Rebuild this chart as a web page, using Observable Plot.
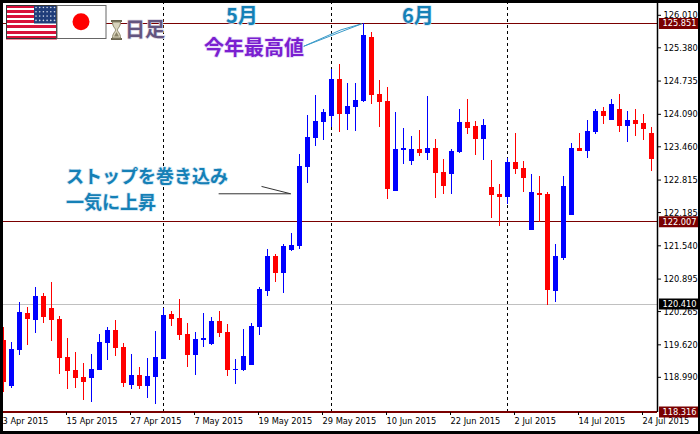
<!DOCTYPE html>
<html><head><meta charset="utf-8">
<style>
html,body{margin:0;padding:0;background:#fff}
#wrap{position:relative;width:700px;height:434px;overflow:hidden}
#wrap>svg{display:block}
#border{position:absolute;left:0;top:0;width:700px;height:434px;box-sizing:border-box;border:solid #000;border-width:3px 2px 3px 3px;pointer-events:none}
#flags{position:absolute;left:6px;top:5px}
#glass{position:absolute;left:110px;top:20px}
</style>
<script src="https://cdn.jsdelivr.net/npm/d3@7"></script>
<script src="https://cdn.jsdelivr.net/npm/@observablehq/plot@0.6"></script>
</head><body><div id="wrap">
</div>
<script>
const highs = [119.956,119.666,120.441,120.344,120.732,120.616,120.829,120.170,119.743,119.472,119.258,119.433,119.821,119.956,120.092,119.646,119.433,119.181,119.355,119.879,120.325,120.267,120.499,120.034,119.860,120.228,120.150,120.267,120.015,119.336,119.918,120.034,120.732,121.469,121.372,121.566,121.779,123.311,124.067,124.455,124.183,124.959,125.056,124.688,124.688,125.851,125.677,124.746,124.610,124.125,123.815,123.660,123.776,124.436,123.602,123.214,123.408,124.183,124.377,123.951,123.990,123.195,122.729,123.233,123.718,123.175,122.923,122.884,122.574,121.566,122.884,123.524,123.718,123.970,124.183,124.222,124.377,124.474,124.145,124.183,124.087,123.834];
const bodyTops = [119.704,119.530,120.247,120.228,120.558,120.558,120.325,120.112,119.375,119.123,118.987,119.142,119.666,119.898,119.898,119.569,119.026,119.026,119.006,119.375,120.189,120.209,120.131,119.821,119.724,119.743,120.073,120.073,119.860,119.142,119.394,119.976,120.693,121.333,121.333,121.527,121.546,123.078,123.641,123.951,124.125,124.765,124.765,124.242,124.358,125.618,125.580,124.474,124.339,123.408,123.427,123.408,123.408,123.427,123.427,122.962,123.369,123.931,123.931,123.854,123.873,122.671,122.535,123.156,123.156,123.039,122.574,122.555,122.535,121.333,122.690,123.427,123.427,123.757,124.145,124.145,124.280,124.183,123.970,123.970,123.912,123.718];
const bodyBottoms = [118.890,118.812,119.510,120.112,120.092,120.150,120.092,119.355,119.103,118.968,118.890,118.968,119.123,119.646,119.549,118.871,118.832,118.812,118.812,118.987,119.336,120.112,119.801,119.414,119.414,119.704,119.627,119.840,119.123,119.123,119.123,119.220,119.956,120.655,121.004,121.004,121.449,121.527,123.059,123.621,123.931,124.048,124.087,124.087,124.222,124.339,124.455,124.319,122.632,122.594,123.388,123.175,123.330,123.330,122.943,122.690,122.923,123.350,123.815,123.602,123.602,122.516,122.477,122.477,123.020,122.846,121.837,122.516,120.674,120.655,121.294,122.128,123.369,123.369,123.738,124.048,123.970,123.854,123.854,123.893,123.796,123.214];
const lows = [118.696,118.774,119.414,119.607,119.840,120.034,119.685,119.045,118.754,118.774,118.541,118.502,119.123,119.317,119.394,118.793,118.754,118.754,118.580,118.463,119.336,119.976,119.704,119.181,119.026,119.569,119.607,119.763,119.006,118.851,119.103,119.220,119.801,120.558,120.829,120.616,121.430,121.469,122.749,123.466,123.582,123.834,123.738,123.776,123.757,124.319,124.280,123.834,122.438,122.594,123.117,123.098,123.272,123.195,122.458,122.535,122.535,123.330,123.699,123.292,123.195,122.070,121.915,122.341,122.923,122.574,121.837,121.992,120.383,120.441,121.256,122.128,123.369,123.233,123.699,123.893,123.970,123.738,123.544,123.660,123.582,122.981];
// r = red bar (fell), b = blue bar (rose)
const barColours = "rbbrbrrrrrrbbbrrbrbbbrrrbbbrrbbbbbrbbbbbbbrbbbrrrbbbrbrrbbrrbrrbrrbrrbbbrbbrbrbrrr";
const bars = highs.map((high,i)=>({i,high,top:bodyTops[i],bottom:bodyBottoms[i],low:lows[i],rise:barColours[i]==="b"}));

const priceTicks = [126.010,125.380,124.735,124.090,123.460,122.815,122.185,121.540,120.895,120.265,119.620,118.990];
const barTicks = [0,8,16,24,32,40,48,56,64,72,80];
const barTickLabels = ["3 Apr 2015","15 Apr 2015","27 Apr 2015","7 May 2015","19 May 2015","29 May 2015","10 Jun 2015","22 Jun 2015","2 Jul 2015","14 Jul 2015","24 Jul 2015"];
const monthStarts = [20,41,63];
const darkLevels = [125.851,122.007,118.316];
const greyLevel = 120.410;
const maroon = "#7a0000";
const blueText = "#1580b6";
const purpleText = "#7a1fd0";
const frameTop = 126.239, frameBottom = 118.308, lastX = 81.75;

const centredLabels = [
  {i:29.81,p:125.987,t:"5月",c:blueText,s:20,h:"#d4e9f5"},
  {i:51.81,p:125.987,t:"6月",c:blueText,s:20,h:"#d4e9f5"},
  {i:31.3,p:125.366,t:"今年最高値",c:purpleText,s:20,h:"#e6d5f7"}
];
const startLabels = [
  {i:7.81,p:122.865,t:"ストップを巻き込み",c:blueText,s:18,h:"#d4e9f5"},
  {i:7.81,p:122.361,t:"一気に上昇",c:blueText,s:18,h:"#d4e9f5"},
  {i:15.19,p:125.72,t:"日足",c:"#63557f",s:20,h:"#ddd8e6"}
];
const peakLeader = [[37.56,125.411],[44.78,125.845],[42.19,125.729],[37.56,125.411]];
const breakoutLeader = [[26.94,122.549],[35.9,122.549],[32.3,122.69]];
const tag = (t)=>t.toFixed(3);
const labelStyle = {x:"i",y:"p",text:"t",fill:"c",fontSize:"s",fontWeight:700,fontFamily:"'Noto Sans CJK JP'",stroke:"h",strokeWidth:1.5};

const chart = Plot.plot({
  width:700,height:434,marginLeft:3,marginRight:43,marginTop:3,marginBottom:22,
  style:{fontFamily:"'DejaVu Sans Condensed','DejaVu Sans',sans-serif",fontSize:"9.2px",background:"#fff",color:"#000"},
  x:{type:"linear",domain:[0,lastX]},
  y:{type:"linear",domain:[frameBottom,frameTop]},
  marks:[
    Plot.ruleX(monthStarts,{stroke:"#000",strokeWidth:1,strokeDasharray:"3,3",y1:frameBottom,y2:frameTop,shapeRendering:"crispEdges"}),
    Plot.ruleY([greyLevel],{stroke:"#c0c0c0",x1:0,x2:lastX,shapeRendering:"crispEdges"}),
    Plot.ruleY(darkLevels.slice(0,2),{stroke:maroon,x1:0,x2:lastX,shapeRendering:"crispEdges"}),
    Plot.ruleX(bars,{x:"i",y1:"low",y2:"high",stroke:d=>d.rise?"#0000ff":"#ff0000",strokeWidth:1,clip:true,shapeRendering:"crispEdges"}),
    Plot.ruleX(bars,{x:"i",y1:"bottom",y2:"top",stroke:d=>d.rise?"#0000ff":"#ff0000",strokeWidth:5,clip:true,shapeRendering:"crispEdges"}),
    Plot.ruleY([frameBottom],{stroke:"#000",x1:0,x2:lastX}),
    Plot.ruleY([darkLevels[2]],{stroke:maroon,strokeWidth:2,x1:0,x2:lastX,shapeRendering:"crispEdges"}),
    Plot.ruleX([lastX],{stroke:"#000",strokeWidth:1.5,y1:frameBottom,y2:frameTop}),
    Plot.axisY({anchor:"right",ticks:priceTicks,tickFormat:tag,tickSize:3,tickPadding:3,label:null}),
    Plot.axisX({anchor:"bottom",ticks:barTicks,tickFormat:i=>barTickLabels[barTicks.indexOf(i)],tickSize:3,tickPadding:2,textAnchor:"start",dx:-1,label:null}),
    Plot.ruleY(darkLevels,{x1:lastX+0.25,x2:86.875,stroke:maroon,strokeWidth:11}),
    Plot.ruleY([greyLevel],{x1:lastX+0.25,x2:86.875,stroke:"#000",strokeWidth:11}),
    Plot.text(darkLevels.concat([greyLevel]),{x:lastX+0.62,y:d=>d,text:tag,textAnchor:"start",fill:"#fff"}),
    Plot.line(peakLeader,{x:"0",y:"1",stroke:"#3a9ac9",strokeWidth:1,curve:"linear"}),
    Plot.line(breakoutLeader,{x:"0",y:"1",stroke:"#333",strokeWidth:1}),
    Plot.text(centredLabels,{...labelStyle,textAnchor:"middle"}),
    Plot.text(startLabels,{...labelStyle,textAnchor:"start"})
  ]
});
const wrap=document.getElementById("wrap");
wrap.appendChild(chart);
wrap.insertAdjacentHTML("beforeend",`
<svg id="flags" width="101" height="35" viewBox="0 0 101 35">
  <rect x="0" y="0" width="51" height="34" fill="#fff"/>
  <g fill="#d8103a"><rect y="0" width="51" height="3"/><rect y="5" width="51" height="3"/><rect y="10" width="51" height="3"/><rect y="15" width="51" height="3"/><rect y="20" width="51" height="3"/><rect y="26" width="51" height="3"/><rect y="31" width="51" height="3.5"/></g>
  <rect x="28" width="23" height="18.5" fill="#1f3d7a"/>
  <g fill="#cfd8e8">${d3.range(4).flatMap(r=>d3.range(6).map(c=>`<circle cx="${30+c*3.7}" cy="${2.5+r*4.3}" r="0.8"/>`)).join("")}</g>
  <rect x="0.5" y="0.5" width="50" height="33" fill="none" stroke="#333"/>
  <rect x="51" y="0.5" width="49" height="33" fill="#fff" stroke="#666"/>
  <circle cx="75" cy="16.7" r="8.5" fill="#f00"/>
</svg>
<svg id="glass" width="13" height="20" viewBox="0 0 13 20">
  <path d="M1 1H12M1 19H12" stroke="#6b6650" stroke-width="2"/>
  <path d="M2.5 2H10.5C10.5 7 7.5 8 7.5 10C7.5 12 10.5 13 10.5 18H2.5C2.5 13 5.5 12 5.5 10C5.5 8 2.5 7 2.5 2Z" fill="#d9d4bd" stroke="#8a8468"/>
  <path d="M4 16.5H9L6.5 12Z" fill="#8a8468"/>
</svg>
<div id="border"></div>`);
</script>
</body></html>
